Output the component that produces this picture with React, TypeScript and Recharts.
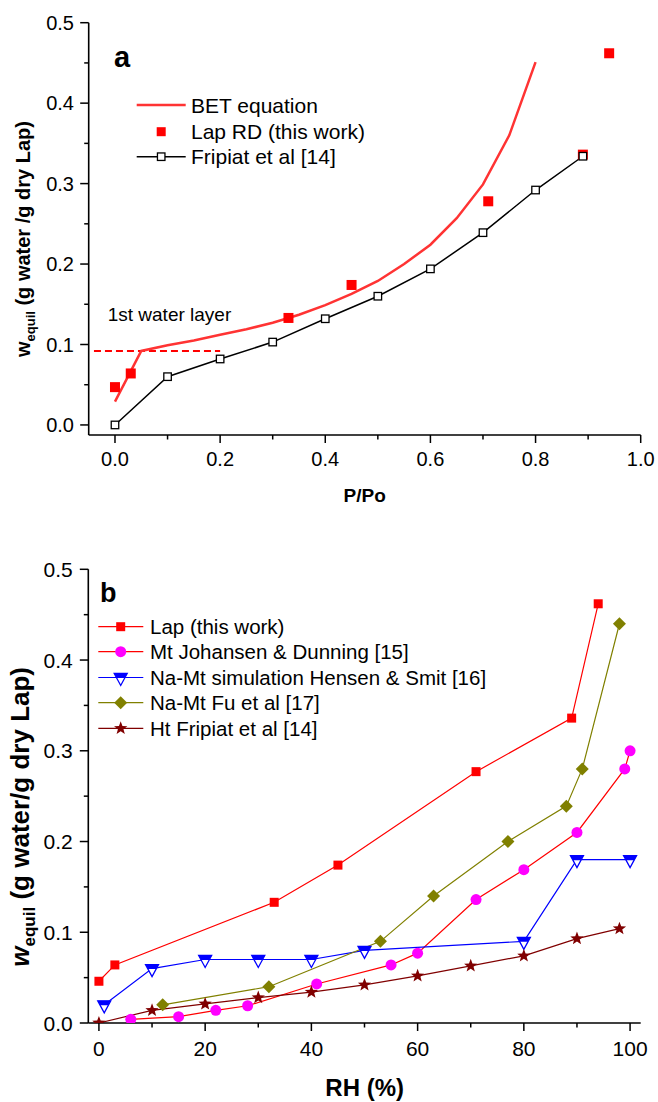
import { LineChart, Line, XAxis, YAxis, Legend, ReferenceLine } from "recharts";

const FONT = '"Liberation Sans", Arial, Helvetica, sans-serif';

// panel a: water uptake vs relative pressure
const betP = [0, 0.05, 0.1, 0.15, 0.2, 0.25, 0.3, 0.35, 0.4, 0.45, 0.5, 0.55, 0.6, 0.65, 0.7, 0.75, 0.8];
const betW = [0.029, 0.092, 0.099, 0.105, 0.112, 0.119, 0.127, 0.137, 0.149, 0.163, 0.179, 0.2, 0.224, 0.257, 0.299, 0.36, 0.451];
const lapP = [0, 0.03, 0.33, 0.45, 0.71, 0.89, 0.94];
const lapW = [0.047, 0.064, 0.133, 0.174, 0.278, 0.336, 0.462];
const fripiatP = [0, 0.1, 0.2, 0.3, 0.4, 0.5, 0.6, 0.7, 0.8, 0.89];
const fripiatW = [0, 0.06, 0.082, 0.103, 0.132, 0.16, 0.194, 0.239, 0.292, 0.334];
const monolayerW = 0.092;
const monolayerP = [-0.04, 0.2];
const ticksP = [0, 0.1, 0.2, 0.3, 0.4, 0.5, 0.6, 0.7, 0.8, 0.9, 1.0];
const ticksW = [0, 0.05, 0.1, 0.15, 0.2, 0.25, 0.3, 0.35, 0.4, 0.45, 0.5];

// panel b: water uptake vs RH
const lapRH = [0, 3, 33, 45, 71, 89, 94];
const lapRHW = [0.046, 0.064, 0.133, 0.174, 0.277, 0.336, 0.462];
const johansenRH = [6, 15, 22, 28, 41, 55, 60, 71, 80, 90, 99, 100];
const johansenW = [0.004, 0.007, 0.014, 0.019, 0.043, 0.064, 0.077, 0.136, 0.169, 0.21, 0.28, 0.3];
const hensenRH = [1, 10, 20, 30, 40, 50, 80, 90, 100];
const hensenW = [0.02, 0.06, 0.07, 0.07, 0.07, 0.08, 0.09, 0.18, 0.18];
const fuRH = [12, 32, 53, 63, 77, 88, 91, 98];
const fuW = [0.02, 0.04, 0.09, 0.14, 0.2, 0.239, 0.28, 0.44];
const fripiatRH = [0, 10, 20, 30, 40, 50, 60, 70, 80, 90, 98];
const fripiatRHW = [0, 0.014, 0.021, 0.028, 0.034, 0.042, 0.052, 0.063, 0.074, 0.093, 0.104];
const ticksRH = [0, 10, 20, 30, 40, 50, 60, 70, 80, 90, 100];

const toPts = (xs: number[], ys: number[]) => xs.map((x, i) => ({ x, y: ys[i] }));

const isMajor = (v: number, step: number) => Math.abs(v / step - Math.round(v / step)) < 1e-6;

type Kind = "square" | "openSquare" | "circle" | "triangle" | "diamond" | "star";

function starPoints(cx: number, cy: number, R: number, r: number) {
    const pts: string[] = [];
    for (let i = 0; i < 10; i++) {
        const a = ((-90 + i * 36) * Math.PI) / 180;
        const rad = i % 2 ? r : R;
        pts.push(`${cx + rad * Math.cos(a)},${cy + rad * Math.sin(a)}`);
    }
    return pts.join(" ");
}

function Marker({ kind, cx, cy, color, size }: { kind: Kind; cx: number; cy: number; color: string; size: number }) {
    const h = size / 2;
    switch (kind) {
        case "square":
            return <rect x={cx - h} y={cy - h} width={size} height={size} fill={color} />;
        case "openSquare":
            return <rect x={cx - h} y={cy - h} width={size} height={size} fill="#fff" stroke={color} strokeWidth={1.3} />;
        case "circle":
            return <circle cx={cx} cy={cy} r={h} fill={color} />;
        case "diamond":
            return <polygon points={`${cx},${cy - h} ${cx + h},${cy} ${cx},${cy + h} ${cx - h},${cy}`} fill={color} />;
        case "star":
            return <polygon points={starPoints(cx, cy, h, h * 0.42)} fill={color} />;
        case "triangle": {
            const w = h;
            const top = cy - 4;
            const bot = cy + 8;
            const bandY = cy + 0.5;
            const bw = w * (1 - (bandY - top) / (bot - top));
            return (
                <g>
                    <polygon points={`${cx - w},${top} ${cx + w},${top} ${cx},${bot}`} fill="#fff" stroke={color} strokeWidth={1.3} />
                    <polygon points={`${cx - w},${top} ${cx + w},${top} ${cx + bw},${bandY} ${cx - bw},${bandY}`} fill={color} />
                </g>
            );
        }
    }
    return null;
}

const dotOf = (kind: Kind, color: string, size: number) => (p: any) => (
    <Marker key={`m-${p.index}`} kind={kind} cx={p.cx} cy={p.cy} color={color} size={size} />
);

function xTick(step: number, fmt: (v: number) => string, fontSize: number, dy: number) {
    return (p: any) => {
        const v = p.payload.value;
        const major = isMajor(v, step);
        return (
            <g>
                <line x1={p.x} x2={p.x} y1={p.y} y2={p.y + (major ? 8 : 4.5)} stroke="#000" strokeWidth={1.5} />
                {major && (
                    <text x={p.x} y={p.y + dy} textAnchor="middle" fontSize={fontSize} fontFamily={FONT} fill="#000">
                        {fmt(v)}
                    </text>
                )}
            </g>
        );
    };
}

function yTick(step: number, fontSize: number, gap: number) {
    return (p: any) => {
        const v = p.payload.value;
        const major = isMajor(v, step);
        return (
            <g>
                <line x1={p.x - (major ? 8.5 : 4.5)} x2={p.x} y1={p.y} y2={p.y} stroke="#000" strokeWidth={1.5} />
                {major && (
                    <text x={p.x - gap} y={p.y + fontSize * 0.36} textAnchor="end" fontSize={fontSize} fontFamily={FONT} fill="#000">
                        {v.toFixed(1)}
                    </text>
                )}
            </g>
        );
    };
}

const axisStroke = { stroke: "#000", strokeWidth: 1.6 };

const BET_RED = "#FF3333";

function LegendA() {
    const lx1 = 136.7, lx2 = 185.7, tx = 191, mx = (lx1 + lx2) / 2;
    const rows = [105, 131.7, 156.7];
    const txt = (y: number, s: string) => (
        <text x={tx} y={y + 7.5} fontSize={21} fontFamily={FONT} fill="#000">{s}</text>
    );
    return (
        <svg width={658} height={520} style={{ display: "block" }}>
            <line x1={lx1} x2={lx2} y1={rows[0]} y2={rows[0]} stroke={BET_RED} strokeWidth={2.5} />
            {txt(rows[0], "BET equation")}
            <Marker kind="square" cx={mx} cy={rows[1]} color="#FF0000" size={9} />
            {txt(rows[1], "Lap RD (this work)")}
            <line x1={lx1} x2={lx2} y1={rows[2]} y2={rows[2]} stroke="#000" strokeWidth={1.5} />
            <Marker kind="openSquare" cx={mx} cy={rows[2]} color="#000" size={7.5} />
            {txt(rows[2], "Fripiat et al [14]")}
        </svg>
    );
}

const seriesB: { name: string; xs: number[]; ys: number[]; line: string; fill: string; kind: Kind; size: number }[] = [
    { name: "Lap (this work)", xs: lapRH, ys: lapRHW, line: "#FF0000", fill: "#FF0000", kind: "square", size: 9 },
    { name: "Mt Johansen & Dunning [15]", xs: johansenRH, ys: johansenW, line: "#FF0000", fill: "#FF00FF", kind: "circle", size: 11 },
    { name: "Na-Mt simulation Hensen & Smit [16]", xs: hensenRH, ys: hensenW, line: "#0000FF", fill: "#0000FF", kind: "triangle", size: 13 },
    { name: "Na-Mt Fu et al [17]", xs: fuRH, ys: fuW, line: "#808000", fill: "#808000", kind: "diamond", size: 13 },
    { name: "Ht Fripiat et al [14]", xs: fripiatRH, ys: fripiatRHW, line: "#800000", fill: "#800000", kind: "star", size: 14 },
];

function LegendB() {
    const lx1 = 98.3, lx2 = 143.3, tx = 150, mx = 120.7;
    const rows = [86.7, 111.7, 137.5, 162.7, 188.3];
    return (
        <svg width={658} height={562} style={{ display: "block" }}>
            {seriesB.map((s, i) => (
                <g key={s.name}>
                    <line x1={lx1} x2={lx2} y1={rows[i]} y2={rows[i]} stroke={s.line} strokeWidth={1.2} />
                    <Marker kind={s.kind} cx={mx} cy={rows[i]} color={s.fill} size={s.size} />
                    <text x={tx} y={rows[i] + 7.3} fontSize={20.5} fontFamily={FONT} fill="#000">{s.name}</text>
                </g>
            ))}
        </svg>
    );
}

function ChartA() {
    return (
        <LineChart width={658} height={520} margin={{ top: 22.7, right: 17.3, bottom: 55, left: 28.7 }}>
            <XAxis
                type="number" dataKey="x" domain={[-0.05, 1]} allowDataOverflow ticks={ticksP} interval={0}
                height={30} tickSize={0} tickMargin={0} tickLine={false} axisLine={axisStroke}
                tick={xTick(0.2, (v) => v.toFixed(1), 20, 30.7)}
                label={() => (
                    <g>
                        <text x={364.7} y={502} textAnchor="middle" fontSize={19} fontWeight="bold" fontFamily={FONT}>P/Po</text>
                        <text x={107.7} y={320.7} fontSize={19} fontFamily={FONT}>1st water layer</text>
                    </g>
                )}
            />
            <YAxis
                type="number" domain={[-0.0125, 0.5]} allowDataOverflow ticks={ticksW} interval={0}
                width={60} tickSize={0} tickMargin={0} tickLine={false} axisLine={axisStroke}
                tick={yTick(0.1, 20, 14.7)}
                label={() => (
                    <g>
                        <text transform="rotate(-90 30 357)" x={30} y={357} fontSize={20} fontWeight="bold" fontFamily={FONT}>
                            w<tspan fontSize={13} dy={5}>equil</tspan>
                            <tspan dy={-5} fontSize={20}> (g water /g dry Lap)</tspan>
                        </text>
                        <text x={114} y={66.7} fontSize={29} fontWeight="bold" fontFamily={FONT}>a</text>
                    </g>
                )}
            />
            <ReferenceLine
                segment={[{ x: monolayerP[0], y: monolayerW }, { x: monolayerP[1], y: monolayerW }]}
                stroke="#FF0000" strokeWidth={2} strokeDasharray="7 4"
            />
            <Line data={toPts(betP, betW)} dataKey="y" type="linear" stroke={BET_RED} strokeWidth={2.5}
                dot={false} activeDot={false} isAnimationActive={false} legendType="none" />
            <Line data={toPts(lapP, lapW)} dataKey="y" type="linear" stroke="none"
                dot={dotOf("square", "#FF0000", 10)} activeDot={false} isAnimationActive={false} legendType="none" />
            <Line data={toPts(fripiatP, fripiatW)} dataKey="y" type="linear" stroke="#000" strokeWidth={1.5}
                dot={dotOf("openSquare", "#000", 7.5)} activeDot={false} isAnimationActive={false} legendType="none" />
            <Legend layout="vertical" align="center" verticalAlign="middle" content={() => <LegendA />}
                wrapperStyle={{ left: 0, top: 0, width: 658, height: 520, pointerEvents: "none" }} />
        </LineChart>
    );
}

function ChartB() {
    return (
        <LineChart width={658} height={562} margin={{ top: 29.3, right: 17.3, bottom: 49, left: 28.3 }}>
            <XAxis
                type="number" dataKey="x" domain={[-2, 102]} allowDataOverflow ticks={ticksRH} interval={0}
                height={30} tickSize={0} tickMargin={0} tickLine={false} axisLine={axisStroke}
                tick={xTick(20, (v) => String(v), 21, 33)}
                label={() => (
                    <text x={364.7} y={556} textAnchor="middle" fontSize={24} fontWeight="bold" fontFamily={FONT}>RH (%)</text>
                )}
            />
            <YAxis
                type="number" domain={[0, 0.5]} allowDataOverflow ticks={ticksW} interval={0}
                width={60} tickSize={0} tickMargin={0} tickLine={false} axisLine={axisStroke}
                tick={yTick(0.1, 21, 15.6)}
                label={() => (
                    <g>
                        <text transform="rotate(-90 29 426.7)" x={29} y={426.7} fontSize={26} fontWeight="bold" fontFamily={FONT}>
                            <tspan fontStyle="italic">w</tspan>
                            <tspan fontSize={17} dy={6}>equil</tspan>
                            <tspan dy={-6} fontSize={26}> (g water/g dry Lap)</tspan>
                        </text>
                        <text x={100} y={61.7} fontSize={27} fontWeight="bold" fontFamily={FONT}>b</text>
                    </g>
                )}
            />
            {seriesB.map((s) => (
                <Line key={s.name} data={toPts(s.xs, s.ys)} dataKey="y" type="linear" stroke={s.line} strokeWidth={1.2}
                    dot={dotOf(s.kind, s.fill, s.size)} activeDot={false} isAnimationActive={false} legendType="none" />
            ))}
            <Legend layout="vertical" align="center" verticalAlign="middle" content={() => <LegendB />}
                wrapperStyle={{ left: 0, top: 0, width: 658, height: 562, pointerEvents: "none" }} />
        </LineChart>
    );
}

export default function App() {
    return (
        <div style={{ position: "absolute", left: 0, top: 0, width: 658, height: 1102, background: "#fff", fontFamily: FONT }}>
            <div style={{ position: "absolute", left: 0, top: 0 }}>
                <ChartA />
            </div>
            <div style={{ position: "absolute", left: 0, top: 540 }}>
                <ChartB />
            </div>
        </div>
    );
}
